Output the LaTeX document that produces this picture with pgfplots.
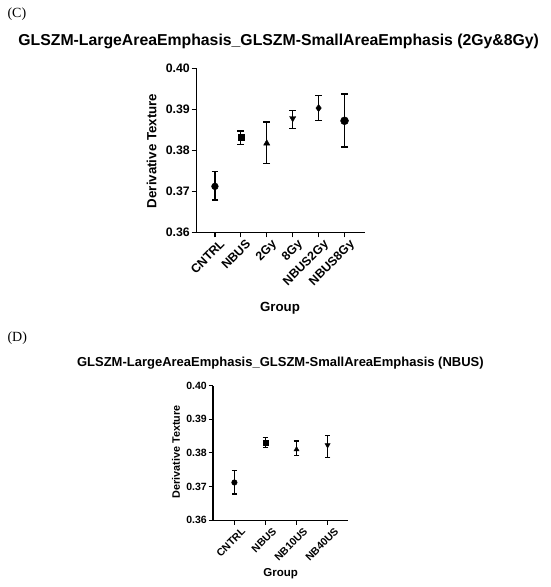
\documentclass[border=0pt]{standalone}
\usepackage{pgfplots}
\pgfplotsset{compat=1.18}
\usepackage{fontspec}
\setmainfont{Liberation Sans}
\newfontfamily\serif{Liberation Serif}
\begin{document}
\begin{tikzpicture}
\path[use as bounding box] (0pt,0pt) rectangle (550pt,587pt);
\pgfplotsset{
  gp/.style={
    scale only axis,
    axis x line*=bottom, axis y line*=left,
    axis line style={line width=1.3pt,-},
    tick style={line width=1.3pt,black},
    tick align=outside, major tick length=5pt,
    ymin=0.36, ymax=0.40,
    ytick={0.36,0.37,0.38,0.39,0.40},
    yticklabels={0.36,0.37,0.38,0.39,0.40},
    clip=false,
    yticklabel style={inner sep=1.5pt},
    xticklabel style={rotate=45, anchor=north east, inner sep=1pt, xshift=3pt, yshift=-3pt},
    error bars/error bar style={line width=1.3pt,black,solid},
    error bars/error mark options={rotate=90,line width=1.3pt,mark size=3.4pt,black},
  },
  pt/.style={only marks, draw=black, fill=black, mark options={solid,fill=black,draw=black},
    error bars/y dir=both, error bars/y explicit},
}
% Panel C
\node[anchor=west, font=\serif\fontsize{14}{16}\selectfont] at (4pt,573pt) {(C)};
\node[font=\bfseries\fontsize{15.8}{18}\selectfont] at (278.7pt,546pt) {GLSZM-LargeAreaEmphasis\_GLSZM-SmallAreaEmphasis (2Gy\&8Gy)};
\node[rotate=90, font=\bfseries\fontsize{13.3}{15}\selectfont] at (151.5pt,436pt) {Derivative Texture};
\node[font=\bfseries\fontsize{13.3}{15}\selectfont] at (280pt,279pt) {Group};
\begin{axis}[gp,
  at={(196.5pt,354.7pt)}, anchor=south west,
  width=168pt, height=164pt,
  xmin=-0.71, xmax=5.77,
  xtick={0,1,2,3,4,5},
  xticklabels={CNTRL,NBUS,2Gy,8Gy,NBUS2Gy,NBUS8Gy},
  ticklabel style={font=\bfseries\fontsize{12.3}{14}\selectfont},
]
\addplot[pt, mark=*, mark size=3.4pt] coordinates {(0,0.3712) += (0,0.0036) -= (0,0.0033)};
\addplot[pt, mark=square*, mark size=3pt] coordinates {(1,0.3832) += (0,0.0015) -= (0,0.0017)};
\addplot[pt, mark=triangle*, mark size=3.6pt] coordinates {(2,0.3817) += (0,0.0052) -= (0,0.0050)};
\addplot[pt, mark=triangle*, mark size=3.6pt, mark options={rotate=180}] coordinates {(3,0.3878) += (0,0.0019) -= (0,0.0025)};
\addplot[pt, mark=diamond*, mark size=3.6pt] coordinates {(4,0.3903) += (0,0.0031) -= (0,0.0031)};
\addplot[pt, mark=*, mark size=4pt] coordinates {(5,0.3872) += (0,0.0065) -= (0,0.0064)};
\end{axis}
% Panel D
\node[anchor=west, font=\serif\fontsize{14}{16}\selectfont] at (4pt,249pt) {(D)};
\node[font=\bfseries\fontsize{13}{15}\selectfont] at (280.4pt,224pt) {GLSZM-LargeAreaEmphasis\_GLSZM-SmallAreaEmphasis (NBUS)};
\node[rotate=90, font=\bfseries\fontsize{10.8}{13}\selectfont] at (176pt,135pt) {Derivative Texture};
\node[font=\bfseries\fontsize{11.5}{13}\selectfont] at (280.7pt,13pt) {Group};
\begin{axis}[gp,
  at={(213pt,66.8pt)}, anchor=south west,
  width=135.4pt, height=134.7pt,
  xmin=-0.69, xmax=3.67,
  xtick={0,1,2,3},
  xticklabels={CNTRL,NBUS,NB10US,NB40US},
  major tick length=4.5pt,
  ticklabel style={font=\bfseries\fontsize{10.5}{12}\selectfont},
  xticklabel style={xshift=1pt, yshift=-2pt},
  error bars/error mark options={rotate=90,line width=1.2pt,mark size=2.8pt,black},
  error bars/error bar style={line width=1.2pt,black,solid},
  axis line style={line width=1.2pt,-},
  tick style={line width=1.2pt,black},
]
\addplot[pt, mark=*, mark size=2.8pt] coordinates {(0,0.3712) += (0,0.0035) -= (0,0.0034)};
\addplot[pt, mark=square*, mark size=2.5pt] coordinates {(1,0.3830) += (0,0.0016) -= (0,0.0015)};
\addplot[pt, mark=triangle*, mark size=3pt] coordinates {(2,0.3810) += (0,0.0025) -= (0,0.0019)};
\addplot[pt, mark=triangle*, mark size=3pt, mark options={rotate=180}] coordinates {(3,0.3823) += (0,0.0028) -= (0,0.0037)};
\end{axis}
\end{tikzpicture}
\end{document}
